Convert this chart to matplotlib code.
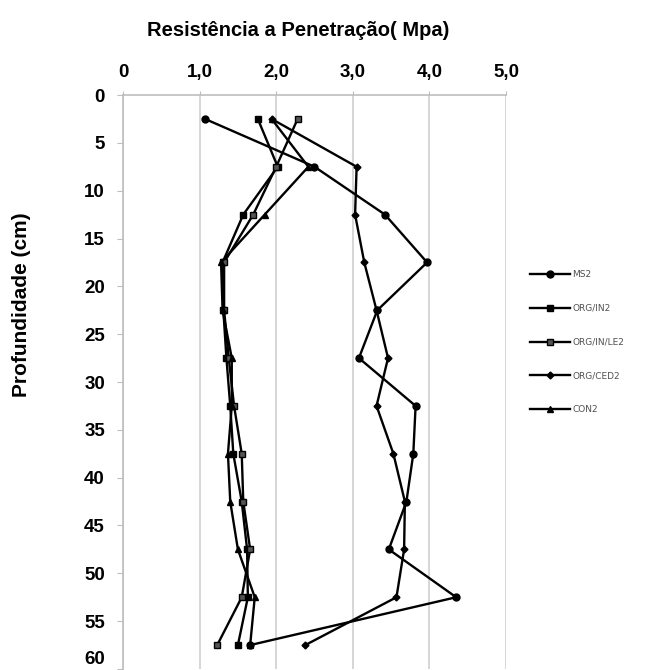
import numpy as np
import matplotlib
matplotlib.use('Agg')
import matplotlib.pyplot as plt
from matplotlib import font_manager
from matplotlib.transforms import offset_copy

# depth (cm) of each reading
depths = [2.5, 7.5, 12.5, 17.5, 22.5, 27.5, 32.5, 37.5, 42.5, 47.5, 52.5, 57.5]

# penetration resistance (MPa) per treatment
ms2 = [1.07, 2.50, 3.42, 3.97, 3.32, 3.08, 3.82, 3.79, 3.70, 3.47, 4.35, 1.66]
org_in2 = [1.76, 2.02, 1.57, 1.30, 1.31, 1.35, 1.40, 1.44, 1.55, 1.62, 1.63, 1.50]
org_in_le2 = [2.28, 2.00, 1.70, 1.32, 1.32, 1.38, 1.45, 1.55, 1.57, 1.66, 1.55, 1.23]
org_ced2 = [1.94, 3.05, 3.03, 3.15, 3.31, 3.46, 3.31, 3.53, 3.68, 3.67, 3.57, 2.38]
con2 = [1.94, 2.42, 1.85, 1.28, 1.30, 1.42, 1.42, 1.37, 1.40, 1.50, 1.72, 1.66]

series_names = ['MS2', 'ORG/IN2', 'ORG/IN/LE2', 'ORG/CED2', 'CON2']
x_ticks = [0, 1, 2, 3, 4, 5]
x_tick_labels = ['0', '1,0', '2,0', '3,0', '4,0', '5,0']
y_ticks = [0, 5, 10, 15, 20, 25, 30, 35, 40, 45, 50, 55, 60]

names = {f.name for f in font_manager.fontManager.ttflist}
bold_font = 'Liberation Sans Narrow' if 'Liberation Sans Narrow' in names else 'Liberation Sans'

fig = plt.figure(figsize=(6.7, 6.7), dpi=100)
ax = fig.add_axes([0.1836, 0.0015, 0.5716, 0.8567])

styles = [
    dict(marker='o', markersize=5, markerfacecolor='black'),
    dict(marker='s', markersize=5, markerfacecolor='black'),
    dict(marker='s', markersize=5, markerfacecolor='#555555'),
    dict(marker='D', markersize=3.5, markerfacecolor='black'),
    dict(marker='^', markersize=5, markerfacecolor='black'),
]
all_series = [ms2, org_in2, org_in_le2, org_ced2, con2]
for vals, name, st in zip(all_series, series_names, styles):
    ax.plot(vals, depths, color='black', linewidth=1.7,
            markeredgecolor='black', label=name, **st)

ax.set_xlim(0, 5)
ax.set_ylim(60, 0)
ax.xaxis.tick_top()
ax.set_xticks(x_ticks)
ax.set_xticklabels(x_tick_labels)
ax.set_yticks(y_ticks)
ax.grid(axis='x', color='#cfcfcf', linewidth=1.2)
ax.set_axisbelow(True)

for side in ['right', 'bottom']:
    ax.spines[side].set_visible(False)
for side in ['top', 'left']:
    ax.spines[side].set_color('#bdbdbd')
    ax.spines[side].set_linewidth(1.2)

ax.tick_params(axis='x', length=3, color='#bdbdbd', pad=7)
ax.tick_params(axis='y', length=4, color='#bdbdbd', pad=9)
for lab in ax.get_xticklabels() + ax.get_yticklabels():
    lab.set_fontfamily(bold_font)
    lab.set_fontweight('bold')
    lab.set_fontsize(13.5)

# the last depth label sits at the bottom edge; lift it so it stays inside
last = ax.get_yticklabels()[-1]
last.set_transform(offset_copy(last.get_transform(), fig=fig, x=0, y=11, units='dots'))

fig.text(0.445, 1 - 30 / 670, 'Resistência a Penetração( Mpa)', ha='center', va='center',
         fontfamily=bold_font, fontweight='bold', fontsize=14.5)
fig.text(22 / 670, 1 - 305 / 670, 'Profundidade (cm)', ha='center', va='center',
         rotation=90, fontfamily=bold_font, fontweight='bold', fontsize=15)

fig.legend(loc='upper left', bbox_to_anchor=(522 / 670, 1 - 262 / 670), frameon=False,
           fontsize=6.5, labelcolor='#505050', handlelength=4.4, handletextpad=0.3,
           labelspacing=2.75)

fig.savefig('out.png', dpi=100)
